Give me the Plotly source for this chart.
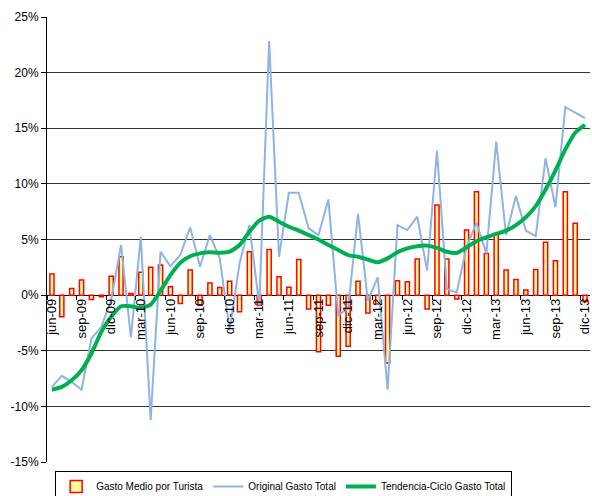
import plotly.graph_objects as go

meses = ["ene", "feb", "mar", "abr", "may", "jun", "jul", "ago", "sep", "oct", "nov", "dic"]
categories = []
for yr in ["09", "10", "11", "12", "13"]:
    for m in meses:
        categories.append(f"{m}-{yr}")
categories = categories[5:]  # jun-09 .. dic-13

gasto_medio = [1.9, -1.95, 0.6, 1.35, -0.4, -0.15, 1.7, 3.45, 0.15, 2.05, 2.5, 2.7,
               0.75, -0.75, 2.25, -0.9, 1.1, 0.68, 1.25, -1.5, 3.9, -0.9, 4.1, 1.65,
               0.7, 3.2, -1.25, -5.1, -0.9, -5.5, -4.6, 1.25, -1.6, -0.8, -6.1, 1.3,
               1.2, 3.25, -1.25, 8.1, 3.25, -0.35, 5.85, 9.3, 3.75, 5.5, 2.25, 1.4,
               0.45, 2.3, 4.75, 3.1, 9.3, 6.45, -0.6]

original_total = [-8.25, -7.25, -7.8, -8.5, -3.9, -2.85, -0.45, 4.5, -3.8, 5.25, -11.25, 3.9,
                  2.6, 3.6, 6.1, 2.55, 5.4, 3.3, -3.15, 2.85, 6.3, -0.9, 22.85, 3.45,
                  9.2, 9.2, 6.0, 5.4, 8.6, -1.8, -1.2, 7.3, -0.5, 1.6, -8.5, 6.3,
                  5.85, 7.05, 2.2, 13.0, 0.55, 0.25, 4.35, 6.5, 3.75, 13.8, 5.4, 8.9,
                  5.8, 5.3, 12.3, 7.9, 16.9, 16.4, 15.9]

tendencia_total = [-8.5, -8.25, -7.65, -6.75, -5.25, -3.3, -1.95, -1.0, -1.0, -1.15, -0.85, 0.4,
                   1.8, 2.9, 3.5, 3.75, 3.85, 3.8, 3.9, 4.5, 5.7, 6.7, 7.05, 6.6,
                   6.15, 5.8, 5.4, 5.0, 4.5, 4.05, 3.6, 3.45, 3.2, 2.95, 3.3, 3.85,
                   4.2, 4.4, 4.45, 4.25, 3.9, 3.8, 4.3, 4.85, 5.2, 5.5, 5.8, 6.3,
                   7.0, 8.0, 9.5, 11.2, 13.1, 14.6, 15.3]

y_ticks = [-15, -10, -5, 0, 5, 10, 15, 20, 25]

idx = list(range(len(categories)))
label_idx = idx[::3]
label_txt = [categories[i] for i in label_idx]

font_main = "Arial, Liberation Sans, sans-serif"

fig = go.Figure()
fig.add_trace(go.Bar(
    x=idx, y=gasto_medio, name="Gasto Medio por Turista", width=0.42,
    marker=dict(color="#FFFF99", line=dict(color="#FF0000", width=1.5)),
))
fig.add_trace(go.Scatter(
    x=idx, y=original_total, name="Original Gasto Total", mode="lines",
    line=dict(color="#8DB4E2", width=2),
))
fig.add_trace(go.Scatter(
    x=idx, y=tendencia_total, name="Tendencia-Ciclo Gasto Total", mode="lines",
    line=dict(color="#00B050", width=4, shape="spline", smoothing=0.6),
))

fig.update_layout(
    width=592, height=496,
    margin=dict(l=47, r=2, t=17, b=34, autoexpand=False),
    paper_bgcolor="white", plot_bgcolor="white",
    font=dict(family=font_main, color="black", size=12),
    showlegend=True,
    legend=dict(
        orientation="h", x=0.015, xanchor="left", y=-0.02, yanchor="top",
        bordercolor="black", borderwidth=1, font=dict(size=10, family=font_main),
        tracegroupgap=0, itemwidth=30,
    ),
    bargap=0.5,
    xaxis=dict(
        range=[-0.5, len(categories) - 0.5],
        tickmode="array", tickvals=label_idx, ticktext=label_txt,
        tickangle=-90, ticks="", showgrid=False, showline=False, zeroline=False,
        anchor="free", position=15 / 40, ticklabeloverflow="allow",
        tickfont=dict(size=13, family=font_main),
        minor=dict(tick0=-0.5, dtick=3, ticks="outside", ticklen=4,
                   tickcolor="black", showgrid=False),
    ),
    yaxis=dict(
        range=[-15, 25], tickmode="array", tickvals=y_ticks,
        ticktext=[f"{v}%" for v in y_ticks],
        ticks="outside", ticklen=5, tickcolor="black",
        showline=True, linecolor="black", linewidth=1,
        showgrid=True, gridcolor="#333333", gridwidth=1,
        zeroline=True, zerolinecolor="black", zerolinewidth=1,
        tickfont=dict(size=12, family=font_main),
        domain=[0, 1],
    ),
)

fig.write_html(
    "out.html",
    config={"displayModeBar": False},
    post_script="document.body.style.margin='0';document.body.style.padding='0';",
)
